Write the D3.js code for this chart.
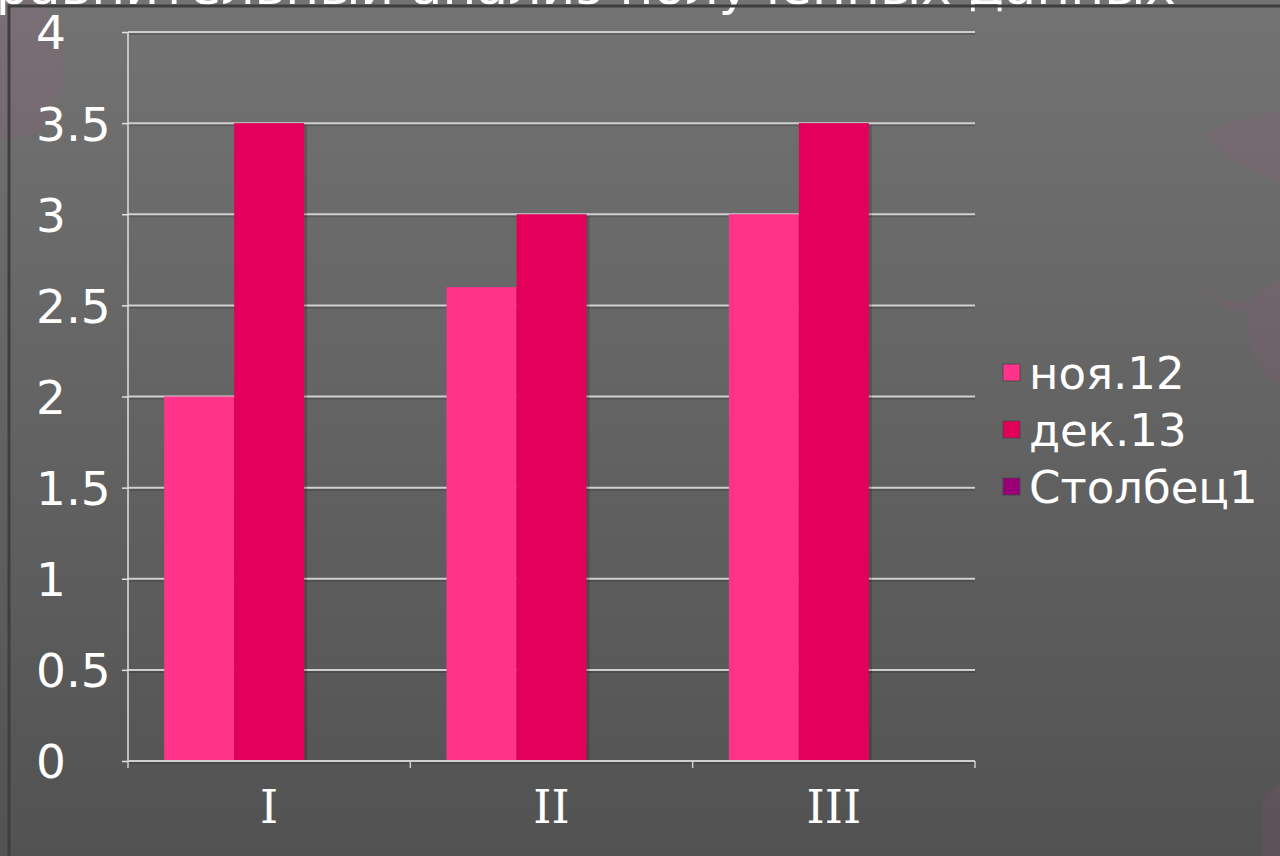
<!DOCTYPE html>
<html>
<head>
<meta charset="utf-8">
<script src="https://cdn.jsdelivr.net/npm/d3@7"></script>
<style>
  html, body { margin: 0; padding: 0; background: #5c5c5c; }
  svg { display: block; }
</style>
</head>
<body>
<div id="chart"></div>
<script>
// chart data
var categories = ["I", "II", "III"];
var seriesNames = ["ноя.12", "дек.13", "Столбец1"];
var seriesColors = ["#ff3388", "#e3005a", "#990077"];
var novValues = [2, 2.6, 3];
var decValues = [3.5, 3, 3.5];
var col1Values = [null, null, null];
var yTicks = [0, 0.5, 1, 1.5, 2, 2.5, 3, 3.5, 4];
var titleText = "Сравнительный анализ полученных данных";

var W = 1280, H = 856;
var seriesValues = [novValues, decValues, col1Values];

var svg = d3.select("#chart").append("svg")
    .attr("width", W)
    .attr("height", H);

var defs = svg.append("defs");
var grad = defs.append("linearGradient")
    .attr("id", "bg").attr("x1", 0).attr("y1", 0).attr("x2", 0).attr("y2", 1);
grad.append("stop").attr("offset", "0%").attr("stop-color", "#737373");
grad.append("stop").attr("offset", "100%").attr("stop-color", "#525252");

svg.append("rect").attr("width", W).attr("height", H).attr("fill", "url(#bg)");

// faint pink leaves of the slide background
var blobs = svg.append("g").attr("fill", "#a8507a").attr("opacity", 0.12);
blobs.append("path").attr("d", "M0,0 L40,0 C70,40 75,110 30,135 C15,140 5,140 0,138 Z");
blobs.append("path").attr("d", "M1207,135 C1235,120 1260,112 1280,110 L1280,182 C1255,175 1228,160 1207,135 Z");
blobs.append("path").attr("d", "M1205,285 C1215,300 1235,305 1250,300 C1260,290 1270,280 1280,278 L1280,385 C1255,375 1245,340 1250,312 C1235,312 1212,305 1205,285 Z");
blobs.append("path").attr("d", "M1262,856 L1262,800 C1270,790 1276,785 1280,784 L1280,856 Z");

// title (mostly cut off above the frame, as on the slide)
svg.append("text")
    .attr("x", 1176)
    .attr("y", 4)
    .attr("text-anchor", "end")
    .attr("font-family", "DejaVu Sans, Verdana, sans-serif")
    .attr("font-size", 52)
    .attr("fill", "#ffffff")
    .text(titleText);

// slide frame
svg.append("path")
    .attr("d", "M9," + H + " L9,6 L" + W + ",6")
    .attr("fill", "none")
    .attr("stroke", "#3e3e3e")
    .attr("stroke-width", 3);

var plotLeft = 128, plotRight = 975, plotTop = 32, plotBottom = 761;

var y = d3.scaleLinear().domain([0, 4]).range([plotBottom, plotTop]);
var x = d3.scaleBand().domain(categories).range([plotLeft, plotRight])
    .paddingInner(0.2562).paddingOuter(0.1281);
var xs = d3.scaleBand().domain(d3.range(seriesNames.length)).range([0, x.bandwidth()]);

// gridlines with a soft shadow
var grid = svg.append("g");
yTicks.forEach(function(t) {
    grid.append("line")
        .attr("x1", plotLeft).attr("x2", plotRight)
        .attr("y1", y(t) + 2).attr("y2", y(t) + 2)
        .attr("stroke", "#000").attr("stroke-opacity", 0.15).attr("stroke-width", 2);
    grid.append("line")
        .attr("x1", plotLeft).attr("x2", plotRight)
        .attr("y1", y(t)).attr("y2", y(t))
        .attr("stroke", "#cfcfcf").attr("stroke-width", 2);
});

// bars
var plot = svg.append("g").attr("class", "plot");
seriesValues.forEach(function(vals, si) {
    var rows = categories.map(function(c, i) { return {cat: c, v: vals[i]}; })
        .filter(function(d) { return d.v != null; });
    plot.selectAll(null).data(rows).enter().append("rect")
        .attr("x", function(d) { return x(d.cat) + xs(si) + 3; })
        .attr("y", function(d) { return y(d.v) + 2; })
        .attr("width", xs.bandwidth())
        .attr("height", function(d) { return y(0) - y(d.v) - 2; })
        .attr("fill", "#000").attr("opacity", 0.18);
    plot.selectAll(null).data(rows).enter().append("rect")
        .attr("x", function(d) { return x(d.cat) + xs(si); })
        .attr("y", function(d) { return y(d.v); })
        .attr("width", xs.bandwidth())
        .attr("height", function(d) { return y(0) - y(d.v); })
        .attr("fill", seriesColors[si]);
});

// y axis
var yAxis = svg.append("g")
    .attr("transform", "translate(" + plotLeft + ",0)")
    .call(d3.axisLeft(y).tickValues(yTicks).tickSize(6).tickFormat(d3.format("")));
yAxis.select(".domain").attr("stroke", "#e0e0e0").attr("stroke-width", 1.5)
    .attr("d", "M0," + y(0) + "V" + y(4));
yAxis.selectAll(".tick line").attr("stroke", "#e0e0e0").attr("stroke-width", 1.5);
yAxis.selectAll(".tick text")
    .attr("x", 36 - plotLeft)
    .attr("text-anchor", "start")
    .attr("dy", "0.36em")
    .attr("font-family", "DejaVu Sans, Verdana, sans-serif")
    .attr("font-size", 47)
    .attr("fill", "#ffffff");

// x axis
var xAxis = svg.append("g").attr("transform", "translate(0," + plotBottom + ")");
xAxis.append("line")
    .attr("x1", plotLeft).attr("x2", plotRight)
    .attr("y1", 0).attr("y2", 0)
    .attr("stroke", "#cfcfcf").attr("stroke-width", 2);
var edges = categories.map(function(c) { return x(c) - x.step() * x.paddingOuter(); });
edges.push(plotRight);
xAxis.selectAll("line.tk").data(edges).enter().append("line")
    .attr("class", "tk")
    .attr("x1", function(d) { return d; }).attr("x2", function(d) { return d; })
    .attr("y1", 0).attr("y2", 7)
    .attr("stroke", "#cfcfcf").attr("stroke-width", 1.5);
xAxis.selectAll("text").data(categories).enter().append("text")
    .attr("x", function(d) { return x(d) + x.bandwidth() / 2; })
    .attr("y", 62)
    .attr("text-anchor", "middle")
    .attr("font-family", "DejaVu Serif, serif")
    .attr("font-size", 46)
    .attr("fill", "#ffffff")
    .text(function(d) { return d; });

// legend
var legend = svg.append("g").attr("transform", "translate(1003,364)");
var items = legend.selectAll("g").data(seriesNames).enter().append("g")
    .attr("transform", function(d, i) { return "translate(0," + (i * 57) + ")"; });
items.append("rect")
    .attr("width", 17).attr("height", 17)
    .attr("fill", function(d, i) { return seriesColors[i]; })
    .attr("stroke", "#444").attr("stroke-width", 0.8);
items.append("text")
    .attr("x", 26)
    .attr("y", 9)
    .attr("dy", "0.36em")
    .attr("font-family", "DejaVu Sans, Verdana, sans-serif")
    .attr("font-size", 45)
    .attr("fill", "#ffffff")
    .text(function(d) { return d; });
</script>
</body>
</html>
